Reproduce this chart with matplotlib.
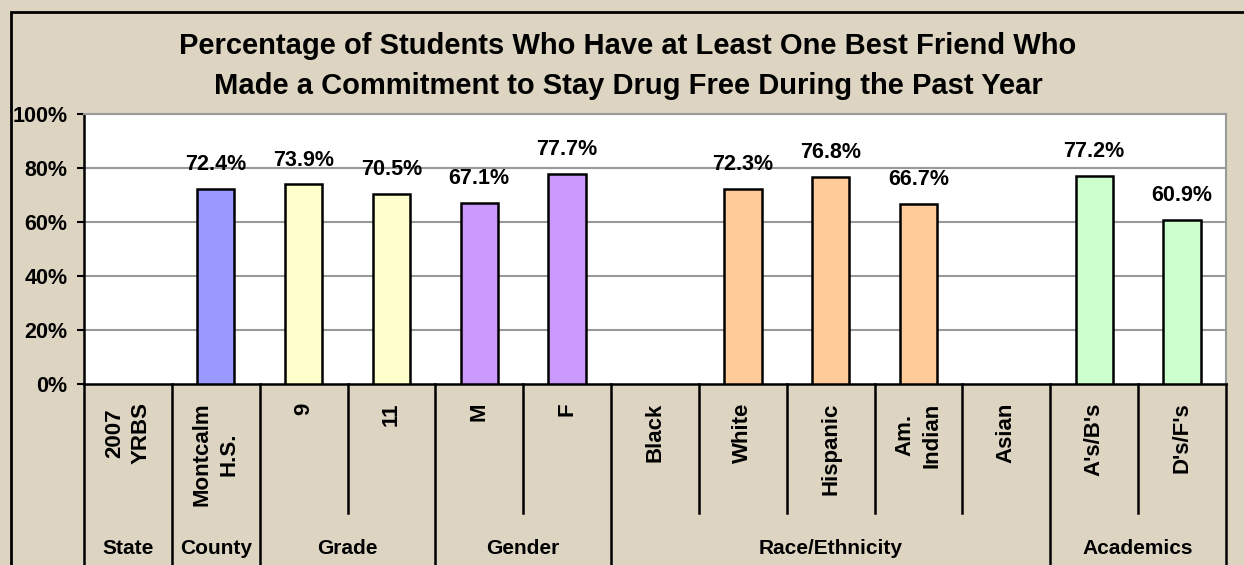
import matplotlib.pyplot as plt
from matplotlib.patches import Rectangle
import matplotlib.transforms as mtransforms

plt.rcParams['font.family'] = ['Liberation Sans', 'DejaVu Sans']
plt.rcParams['font.weight'] = 'bold'

# data
categories = ['2007\nYRBS', 'Montcalm\nH.S.', '9', '11', 'M', 'F', 'Black', 'White',
              'Hispanic', 'Am.\nIndian', 'Asian', "A's/B's", "D's/F's"]
values = [None, 72.4, 73.9, 70.5, 67.1, 77.7, None, 72.3, 76.8, 66.7, None, 77.2, 60.9]
bar_colors = ['#9999FF', '#9999FF', '#FFFFCC', '#FFFFCC', '#CC99FF', '#CC99FF', '#FFCC99',
              '#FFCC99', '#FFCC99', '#FFCC99', '#FFCC99', '#CCFFCC', '#CCFFCC']
groups = ['State', 'County', 'Grade', 'Gender', 'Race/Ethnicity', 'Academics']
group_sizes = [1, 1, 2, 2, 5, 2]
y_ticks = [0, 20, 40, 60, 80, 100]

bg = '#DDD5C2'
W, H = 1244, 565
fig = plt.figure(figsize=(W / 100, H / 100), dpi=100, facecolor=bg)

# outer frame: only left and top edges fall inside the picture
fig.add_artist(Rectangle((11 / W, -0.1), 1.2, (H - 12) / H + 0.1, transform=fig.transFigure,
                         facecolor='none', edgecolor='black', linewidth=2, clip_on=False))

# plot area in pixels: x 84..1226, y 114..384
ax = fig.add_axes([84 / W, (H - 384) / H, (1226 - 84) / W, 270 / H])
ax.set_facecolor('white')
ax.set_xlim(0, len(categories))
ax.set_ylim(0, 100)

for i, v in enumerate(values):
    if v is None:
        continue
    ax.bar(i + 0.5, v, width=0.426, color=bar_colors[i], edgecolor='black', linewidth=1.8, zorder=3)
    ax.annotate('%.1f%%' % v, (i + 0.5, v), xytext=(0, 13.5), textcoords='offset points',
                ha='center', va='baseline', fontsize=15.5, fontweight='bold', zorder=4)

ax.set_yticks(y_ticks)
ax.set_yticklabels(['%d%%' % t for t in y_ticks], fontsize=15.5, fontweight='bold')
ax.tick_params(axis='y', length=5, width=1.5, pad=7, color='black')
ax.set_xticks([])
for t in y_ticks[1:]:
    ax.axhline(t, color='#999999', linewidth=1.5, zorder=1)
ax.spines['left'].set_linewidth(1.8)
ax.spines['bottom'].set_linewidth(1.8)
ax.spines['top'].set_color('#999999')
ax.spines['right'].set_color('#999999')
ax.spines['top'].set_linewidth(1.5)
ax.spines['right'].set_linewidth(1.5)

# category axis below the plot
trans = mtransforms.blended_transform_factory(ax.transData, ax.transAxes)
short_end = (384 - 513) / 270
long_end = (384 - 570) / 270
for i, c in enumerate(categories):
    ax.text(i + 0.5, -0.068, c, rotation=90, ha='center', va='top', multialignment='center',
            fontsize=16, fontweight='bold', transform=trans, linespacing=1.35)

group_edges = [0]
for s in group_sizes:
    group_edges.append(group_edges[-1] + s)
for k in range(len(categories) + 1):
    end = long_end if k in group_edges else short_end
    ax.plot([k, k], [0, end], color='black', linewidth=1.8, transform=trans, clip_on=False)
for g, a, b in zip(groups, group_edges[:-1], group_edges[1:]):
    ax.text((a + b) / 2, (384 - 548) / 270, g, ha='center', va='center', fontsize=15,
            fontweight='bold', transform=trans)

fig.text(628 / W, (H - 66) / H,
         'Percentage of Students Who Have at Least One Best Friend Who\n'
         'Made a Commitment to Stay Drug Free During the Past Year',
         ha='center', va='center', fontsize=21, fontweight='bold', linespacing=1.55)

fig.savefig('out.png', dpi=100, facecolor=bg)
